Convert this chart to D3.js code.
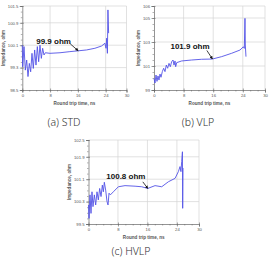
<!DOCTYPE html>
<html>
<head>
<meta charset="utf-8">
<script src="https://cdn.jsdelivr.net/npm/d3@7.9.0/dist/d3.min.js"></script>
<style>
  html, body { margin: 0; padding: 0; background: #fff; }
  svg { display: block; }
</style>
</head>
<body>
<svg id="chart" width="270" height="265"></svg>
<script>
// round trip time axis (ns)
const timeTicks = [0, 8, 16, 24, 30];

// (a) STD
const stdTime = [0, 0.1, 0.49, 0.87, 1.26, 1.64, 2.02, 2.41, 2.79, 3.17, 3.56, 3.94, 4.33, 4.71, 5.09, 5.48, 5.86, 6.25, 6.63,
  7.97, 10.85, 13.7, 16.1, 18.5, 20.9, 22.8, 23.8, 24.1, 24.3, 24.5, 24.66, 24.85];
const stdOhm = [100.1, 99.33, 100.05, 99.21, 99.57, 98.98, 99.45, 99.15, 99.81, 99.27, 99.93, 99.39, 100.05, 99.51, 100.1, 99.63, 99.99, 99.75, 99.83,
  99.81, 99.83, 99.87, 99.9, 99.93, 99.99, 100.07, 100.17, 99.99, 100.35, 99.81, 101.36, 100.53];
const stdTicks = [98.5, 99.3, 100.1, 100.9, 101.5];

// (b) VLP
const vlpTime = [0, 0.27, 0.54, 0.81, 1.08, 1.35, 1.62, 1.89, 2.25, 2.61, 2.97, 3.33, 3.69, 4.05, 4.41, 4.77, 5.14, 5.41, 5.68, 5.86, 6.13,
  7.48, 10.18, 12.88, 15.77, 18.29, 21.0, 23.24, 24.14, 24.41, 24.59, 24.68, 24.86];
const vlpOhm = [99.97, 99.58, 100.25, 99.72, 100.17, 99.83, 100.33, 100.06, 100.53, 100.81, 100.53, 101.08, 100.81, 101.22, 100.94, 101.36, 101.5, 101.08, 101.42, 100.94, 101.28,
  101.42, 101.5, 101.56, 101.58, 101.78, 102.06, 102.33, 102.6, 102.47, 104.97, 102.75, 101.78];
const vlpTicks = [99, 101, 103, 105, 106];

// (c) HVLP
const hvlpTime = [0, 0.14, 0.41, 0.68, 0.95, 1.22, 1.59, 1.95, 2.31, 2.67, 3.03, 3.4, 3.76, 4.03, 4.3, 4.66, 5.03, 5.3, 5.57, 5.93,
  6.75, 8.11, 9.92, 12.64, 14.45, 16.08, 18.07, 19.88, 21.7, 23.5, 24.4, 24.85, 25.1, 25.3, 25.5, 25.57, 25.66];
const hvlpOhm = [100.18, 99.7, 100.54, 99.88, 100.65, 100.12, 100.54, 100.18, 100.65, 100.36, 100.77, 100.48, 100.89, 100.65, 100.99, 100.71, 100.3, 100.18, 100.6, 100.54,
  100.65, 100.83, 100.87, 100.85, 100.83, 100.77, 100.87, 100.83, 101.01, 101.13, 101.37, 101.55, 101.37, 101.73, 102.08, 100.06, 101.5];
const hvlpTicks = [99.5, 100.3, 101.1, 101.9, 102.5];

const captions = ['(a)  STD', '(b)  VLP', '(c)  HVLP'];
const notes = ['99.9 ohm', '101.9 ohm', '100.8 ohm'];
const noteTime = [16.1, 15.8, 16.1];
const noteOhm = [99.9, 101.58, 100.77];

const xTitle = 'Round trip time, ns';
const yTitle = 'Impedance, ohm';

const lineColor = '#5252e6';
const gridColor = '#d4d4d4';
const axisColor = '#666';

const svg = d3.select('#chart');

svg.append('defs').append('marker')
  .attr('id', 'arrow')
  .attr('viewBox', '0 0 10 10')
  .attr('refX', 9).attr('refY', 5)
  .attr('markerWidth', 4).attr('markerHeight', 4)
  .attr('orient', 'auto')
  .append('path').attr('d', 'M0,0 L10,5 L0,10 z').attr('fill', '#111');

const panels = [
  { time: stdTime, ohm: stdOhm, ticks: stdTicks, left: 22.3, right: 126.5, top: 6, bottom: 90, capX: 64, capY: 126, yTitleOff: 17,
    noteDx: -42, noteDy: -7, arrDx: -8, arrDy: -7 },
  { time: vlpTime, ohm: vlpOhm, ticks: vlpTicks, left: 154, right: 265, top: 6, bottom: 90, capX: 198, capY: 126, yTitleOff: 14,
    noteDx: -42, noteDy: -10.5, arrDx: -5.6, arrDy: -8.6 },
  { time: hvlpTime, ohm: hvlpOhm, ticks: hvlpTicks, left: 88.5, right: 199, top: 140, bottom: 224, capX: 131, capY: 255, yTitleOff: 18,
    noteDx: -41.5, noteDy: -9, arrDx: -5, arrDy: -6.6 }
];

panels.forEach((p, i) => {
  const x = d3.scaleLinear().domain([0, 30]).range([p.left, p.right]);
  const y = d3.scaleLinear().domain([p.ticks[0], p.ticks[p.ticks.length - 1]]).range([p.bottom, p.top]);
  const g = svg.append('g');

  // grid
  g.append('g').selectAll('line').data(timeTicks.slice(1)).join('line')
    .attr('x1', d => x(d)).attr('x2', d => x(d))
    .attr('y1', p.top).attr('y2', p.bottom)
    .attr('stroke', gridColor).attr('stroke-width', 0.7);
  g.append('g').selectAll('line').data(p.ticks.slice(1)).join('line')
    .attr('x1', p.left).attr('x2', p.right)
    .attr('y1', d => y(d)).attr('y2', d => y(d))
    .attr('stroke', gridColor).attr('stroke-width', 0.7);

  // minor ticks
  const yStep = p.ticks[1] - p.ticks[0];
  const yMinor = d3.range(p.ticks[0], p.ticks[p.ticks.length - 1] + 1e-9, yStep / 4);
  const xMinorAxis = d3.axisBottom(x).tickValues(d3.range(0, 30.01, 2)).tickSize(1.5).tickFormat('');
  const yMinorAxis = d3.axisLeft(y).tickValues(yMinor).tickSize(1.5).tickFormat('');
  g.append('g').attr('transform', `translate(0,${p.bottom})`).call(xMinorAxis)
    .call(a => a.select('.domain').remove())
    .call(a => a.selectAll('line').attr('stroke', axisColor).attr('stroke-width', 0.5));
  g.append('g').attr('transform', `translate(${p.left},0)`).call(yMinorAxis)
    .call(a => a.select('.domain').remove())
    .call(a => a.selectAll('line').attr('stroke', axisColor).attr('stroke-width', 0.5));

  // major axes
  const xAxis = d3.axisBottom(x).tickValues(timeTicks).tickSize(2.5).tickPadding(1.5);
  const yAxis = d3.axisLeft(y).tickValues(p.ticks).tickSize(2.5).tickPadding(1.5).tickFormat(d => String(d));
  g.append('g').attr('transform', `translate(0,${p.bottom})`).call(xAxis)
    .call(a => a.select('.domain').attr('stroke', axisColor).attr('stroke-width', 0.7))
    .call(a => a.selectAll('line').attr('stroke', axisColor).attr('stroke-width', 0.6).attr('y1', -1.5))
    .call(a => a.selectAll('text').attr('font-size', 4.2).attr('fill', '#555').attr('font-family', 'Liberation Sans, Arial, sans-serif'));
  g.append('g').attr('transform', `translate(${p.left},0)`).call(yAxis)
    .call(a => a.select('.domain').attr('stroke', axisColor).attr('stroke-width', 0.7))
    .call(a => a.selectAll('line').attr('stroke', axisColor).attr('stroke-width', 0.6).attr('x1', 1.5))
    .call(a => a.selectAll('text').attr('font-size', 4.2).attr('fill', '#555').attr('font-family', 'Liberation Sans, Arial, sans-serif'));

  // axis titles
  g.append('text')
    .attr('x', (p.left + p.right) / 2).attr('y', p.bottom + 15)
    .attr('text-anchor', 'middle')
    .attr('font-size', 4.6).attr('font-weight', 'bold').attr('fill', '#555')
    .attr('font-family', 'Liberation Sans, Arial, sans-serif')
    .text(xTitle);
  g.append('text')
    .attr('transform', `translate(${p.left - p.yTitleOff},${(p.top + p.bottom) / 2}) rotate(-90)`)
    .attr('text-anchor', 'middle')
    .attr('font-size', 4.6).attr('font-weight', 'bold').attr('fill', '#555')
    .attr('font-family', 'Liberation Sans, Arial, sans-serif')
    .text(yTitle);

  // data line
  const pts = p.time.map((t, k) => [t, p.ohm[k]]);
  g.append('path')
    .datum(pts)
    .attr('d', d3.line().x(d => x(d[0])).y(d => y(d[1])))
    .attr('fill', 'none')
    .attr('stroke', lineColor)
    .attr('stroke-width', 0.9)
    .attr('stroke-linejoin', 'round');

  // annotation
  const tx = x(noteTime[i]), ty = y(noteOhm[i]);
  g.append('line')
    .attr('x1', tx + p.arrDx).attr('y1', ty + p.arrDy)
    .attr('x2', tx).attr('y2', ty)
    .attr('stroke', '#111').attr('stroke-width', 0.8)
    .attr('marker-end', 'url(#arrow)');
  g.append('text')
    .attr('x', tx + p.noteDx).attr('y', ty + p.noteDy)
    .attr('font-size', 8).attr('font-weight', 'bold').attr('fill', '#111')
    .attr('font-family', 'Liberation Sans, Arial, sans-serif')
    .text(notes[i]);

  // caption
  g.append('text')
    .attr('x', p.capX).attr('y', p.capY)
    .attr('text-anchor', 'middle')
    .attr('font-size', 10.5).attr('fill', '#333')
    .attr('font-family', 'Noto Sans, sans-serif')
    .attr('font-weight', 300)
    .text(captions[i]);
});
</script>
</body>
</html>
